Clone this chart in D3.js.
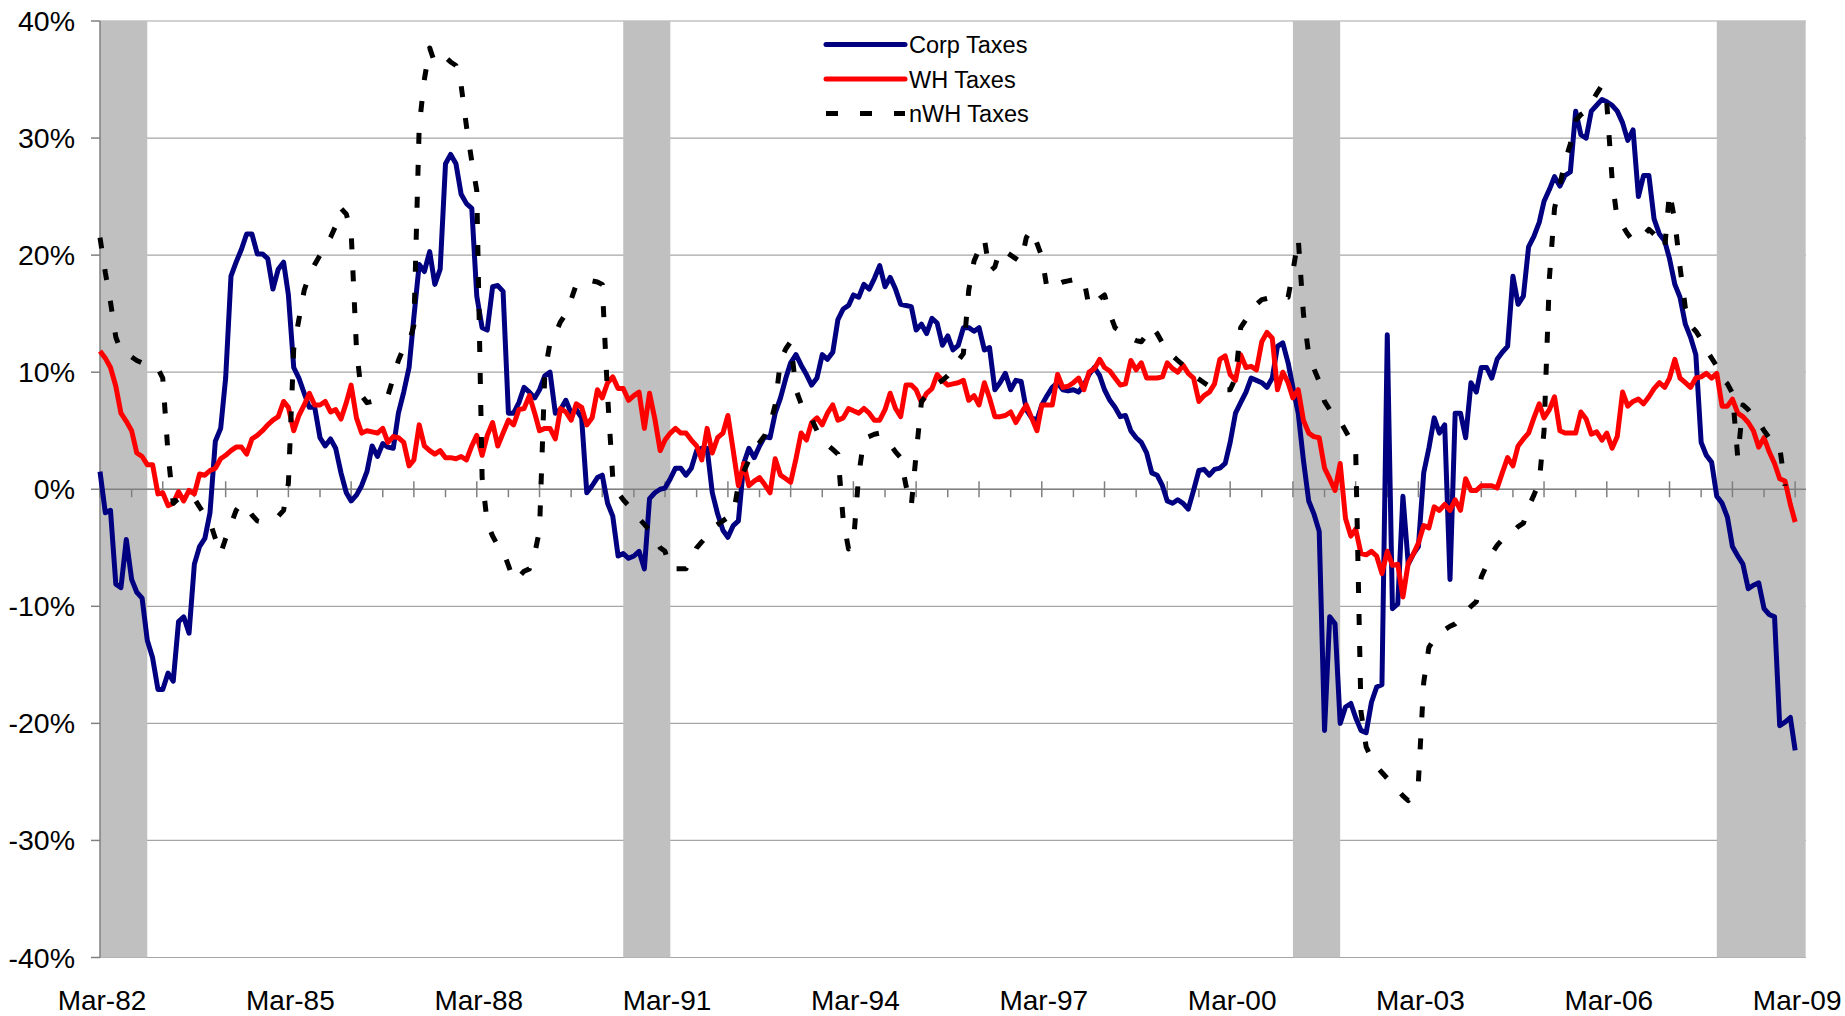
<!DOCTYPE html>
<html>
<head>
<meta charset="UTF-8">
<title>Corp, WH and nWH Taxes</title>
<script src="https://d3js.org/d3.v7.min.js"></script>
<style>
  body { margin: 0; background: #fff; }
  text { font-family: "Liberation Sans", Arial, sans-serif; fill: #000; }
</style>
</head>
<body>
<svg id="chart" width="1845" height="1016"></svg>
<script>
// monthly values (% y/y), first value = Mar-82
var firstYear = 1982, firstMonth = 2;

var corpTaxes = [
  1.5, -2.0, -1.8, -8.1, -8.4, -4.3, -7.7, -8.8, -9.3, -12.9,
  -14.4, -17.1, -17.1, -15.7, -16.4, -11.3, -10.9, -12.3, -6.4, -4.9,
  -4.2, -2.0, 4.1, 5.2, 9.5, 18.2, 19.4, 20.5, 21.8, 21.8,
  20.1, 20.1, 19.7, 17.1, 18.8, 19.4, 16.6, 10.4, 9.5, 8.2,
  7.0, 7.0, 4.4, 3.7, 4.3, 3.5, 1.4, -0.3, -1.0, -0.5,
  0.3, 1.5, 3.7, 2.8, 3.9, 3.6, 3.5, 6.5, 8.3, 10.4,
  14.7, 19.2, 18.6, 20.3, 17.5, 18.8, 27.8, 28.6, 27.8, 25.2,
  24.4, 24.0, 16.5, 13.8, 13.6, 17.3, 17.4, 16.9, 6.5, 6.5,
  7.4, 8.7, 8.3, 7.8, 8.5, 9.7, 10.0, 6.5, 6.8, 7.6,
  6.5, 6.8, 6.1, -0.3, 0.3, 1.0, 1.2, -1.2, -2.3, -5.7,
  -5.5, -5.9, -5.7, -5.3, -6.8, -0.8, -0.3, 0.0, 0.1, 0.9,
  1.8, 1.8, 1.2, 1.8, 3.3, 3.5, 3.5, -0.3, -2.1, -3.5,
  -4.1, -3.1, -2.7, 2.2, 3.5, 2.7, 3.7, 4.5, 4.4, 6.5,
  7.8, 9.5, 10.8, 11.5, 10.6, 9.8, 8.9, 9.5, 11.5, 11.1,
  11.7, 14.5, 15.4, 15.7, 16.6, 16.4, 17.5, 17.1, 18.0, 19.1,
  17.3, 18.1, 17.1, 15.8, 15.7, 15.6, 13.6, 14.1, 13.3, 14.6,
  14.2, 12.3, 13.1, 11.9, 12.3, 13.8, 13.8, 13.5, 13.8, 11.9,
  12.1, 8.5, 9.1, 9.9, 8.5, 9.3, 9.2, 6.8, 6.1, 5.9,
  7.2, 8.0, 8.7, 9.1, 8.5, 8.4, 8.5, 8.3, 8.9, 9.8,
  10.4, 9.7, 8.5, 7.6, 7.0, 6.2, 6.3, 5.0, 4.4, 4.0,
  3.1, 1.4, 1.2, 0.3, -1.0, -1.2, -0.9, -1.2, -1.7, -0.1,
  1.6, 1.7, 1.2, 1.7, 1.8, 2.2, 4.0, 6.5, 7.4, 8.3,
  9.5, 9.3, 9.1, 8.7, 9.5, 12.2, 12.5, 10.8, 8.7, 6.5,
  2.5, -1.0, -2.1, -3.6, -20.6, -10.9, -11.5, -20.0, -18.6, -18.3,
  -19.5, -20.6, -20.8, -18.2, -16.9, -16.7, 13.2, -10.2, -9.8, -0.6,
  -6.4, -5.5, -4.9, 1.4, 3.5, 6.1, 4.8, 5.5, -7.7, 6.5,
  6.5, 4.4, 9.1, 8.3, 10.4, 10.4, 9.5, 11.1, 11.7, 12.2,
  18.2, 15.8, 16.5, 20.7, 21.6, 22.8, 24.6, 25.6, 26.7, 25.9,
  26.8, 27.1, 32.3, 30.3, 30.0, 32.3, 32.8, 33.3, 33.1, 32.8,
  32.3, 31.3, 29.8, 30.7, 25.0, 26.8, 26.8, 23.1, 21.8, 21.2,
  19.7, 17.5, 16.4, 14.1, 13.0, 11.5, 4.0, 2.9, 2.3, -0.6,
  -1.2, -2.4, -4.9, -5.7, -6.4, -8.5, -8.2, -8.0, -10.2, -10.7,
  -10.9, -20.2, -19.9, -19.5, -22.3
];

var whTaxes = [
  11.8, 11.2, 10.4, 8.8, 6.5, 5.8, 5.0, 3.1, 2.8, 2.1,
  2.1, -0.4, -0.3, -1.4, -1.2, -0.2, -1.0, -0.1, -0.4, 1.3,
  1.2, 1.6, 1.8, 2.6, 2.9, 3.3, 3.6, 3.6, 3.0, 4.3,
  4.6, 5.0, 5.5, 5.9, 6.2, 7.5, 7.0, 5.0, 6.3, 7.2,
  8.2, 7.2, 7.2, 7.5, 6.6, 6.8, 6.0, 7.4, 8.9, 6.1,
  4.8, 5.0, 4.9, 4.8, 5.2, 4.0, 4.5, 4.4, 4.0, 2.0,
  2.5, 5.5, 3.7, 3.3, 3.0, 3.3, 2.7, 2.7, 2.6, 2.8,
  2.5, 3.7, 4.6, 2.9, 4.6, 5.7, 3.7, 4.8, 5.9, 5.5,
  6.8, 6.9, 8.0, 6.5, 5.0, 5.2, 5.2, 4.3, 6.9, 6.6,
  5.9, 7.3, 7.0, 5.5, 6.1, 8.5, 7.8, 9.1, 9.6, 8.6,
  8.6, 7.6, 8.0, 8.3, 5.2, 8.2, 6.0, 3.3, 4.2, 4.8,
  5.2, 4.8, 4.8, 4.2, 3.7, 2.5, 5.2, 3.1, 4.4, 4.8,
  6.3, 3.3, 0.3, 2.2, 0.3, 0.7, 1.0, 0.4, -0.3, 2.6,
  1.2, 0.9, 0.6, 2.6, 4.8, 4.2, 5.7, 6.1, 5.5, 6.5,
  7.2, 5.9, 6.1, 6.9, 6.7, 6.5, 6.9, 6.5, 5.9, 5.9,
  6.8, 8.2, 6.9, 6.2, 8.9, 8.9, 8.5, 7.4, 8.2, 8.6,
  9.8, 9.3, 8.9, 9.0, 9.1, 9.3, 7.6, 8.0, 7.2, 9.1,
  7.8, 6.2, 6.2, 6.3, 6.6, 5.7, 6.5, 7.2, 6.1, 5.0,
  7.2, 7.2, 7.2, 9.8, 8.7, 8.8, 9.1, 9.5, 8.5, 10.0,
  10.3, 11.1, 10.4, 10.1, 9.5, 8.9, 9.0, 11.0, 10.2, 10.8,
  9.5, 9.5, 9.5, 9.6, 10.8, 10.3, 10.0, 10.6, 9.9, 9.5,
  7.5, 8.0, 8.3, 9.0, 11.1, 11.4, 9.8, 9.3, 11.5, 10.4,
  10.5, 10.2, 12.6, 13.4, 12.9, 8.5, 10.0, 9.1, 7.8, 8.5,
  5.9, 4.8, 4.5, 4.4, 1.8, 0.9, -0.1, 2.2, -2.5, -4.0,
  -3.4, -5.5, -5.6, -5.3, -5.7, -7.2, -5.3, -6.5, -6.4, -9.2,
  -6.3, -5.5, -4.6, -3.1, -3.3, -1.5, -1.8, -1.3, -1.8, -0.9,
  -1.8, 0.9, -0.1, -0.1, 0.3, 0.3, 0.3, 0.1, 1.4, 2.7,
  2.0, 3.7, 4.3, 4.8, 6.1, 7.3, 6.1, 6.8, 7.9, 5.0,
  4.8, 4.8, 4.8, 6.6, 6.0, 4.7, 4.9, 4.2, 4.8, 3.5,
  4.5, 8.3, 7.1, 7.5, 7.7, 7.3, 7.9, 8.6, 9.1, 8.7,
  9.5, 11.1, 9.5, 9.1, 8.7, 9.5, 9.6, 9.9, 9.5, 9.9,
  7.1, 7.1, 7.7, 6.5, 6.2, 5.7, 5.0, 3.6, 4.4, 3.2,
  2.2, 0.9, 0.7, -1.3, -2.8
];

var nwhTaxes = [
  21.5, 18.5, 16.0, 13.0, 11.8, 11.5, 11.3, 11.0, 10.8, 10.6,
  10.5, 10.3, 9.5, 3.0, -1.2, -0.8, -0.6, -0.6, -0.8, -1.5,
  -2.2, -2.8, -4.2, -5.5, -4.2, -3.0, -1.8, -1.2, -1.5, -2.2,
  -2.7, -2.8, -2.6, -2.5, -2.3, -1.8, 0.5, 12.0, 14.5, 17.0,
  18.3, 19.2, 20.0, 20.8, 21.5, 22.5, 24.0, 23.5, 22.0, 12.0,
  8.0, 7.4, 7.5, 7.6, 7.5, 8.0, 9.5, 11.0, 12.1, 12.5,
  14.0, 31.0, 35.0, 37.7, 36.4, 36.8, 36.9, 36.5, 36.2, 34.5,
  31.0, 28.0, 25.5, 1.0, -2.9, -4.0, -4.8, -5.3, -6.5, -7.8,
  -7.5, -7.0, -6.8, -5.5, -3.5, 10.0, 12.5, 13.3, 14.3, 15.0,
  16.2, 17.5, 17.8, 17.9, 17.8, 17.7, 17.5, 8.0, 1.0, -0.3,
  -0.9, -1.4, -2.0, -2.5, -3.0, -3.5, -4.2, -5.0, -5.3, -6.8,
  -6.8, -6.8, -6.8, -6.0, -5.0, -4.5, -4.0, -3.3, -3.0, -2.7,
  -2.4, -2.2, 0.4, 1.5, 2.5, 3.3, 4.0, 4.6, 5.5, 7.2,
  11.0, 12.0, 12.6, 8.5, 7.3, 6.5, 6.0, 5.0, 4.2, 3.8,
  3.4, 3.0, -2.7, -5.1, -4.6, 1.2, 4.3, 4.5, 4.7, 4.8,
  4.3, 3.8, 3.2, 2.7, 0.3, -1.4, 3.0, 7.5, 8.0, 8.5,
  9.0, 9.3, 9.7, 10.3, 11.0, 11.6, 17.0, 19.5, 20.5, 21.4,
  18.6, 19.0, 20.5, 20.3, 20.0, 19.7, 19.4, 21.5, 22.2, 21.0,
  19.9, 17.1, 17.3, 17.5, 17.7, 17.8, 17.9, 18.0, 17.9, 15.6,
  15.8, 16.3, 16.6, 15.0, 13.8, 13.5, 13.2, 12.9, 12.7, 12.6,
  13.2, 13.9, 13.3, 12.5, 11.7, 11.4, 11.0, 10.6, 10.2, 9.7,
  9.4, 9.1, 8.8, 8.7, 8.6, 8.5, 8.5, 9.5, 13.8, 14.5,
  15.2, 15.8, 16.2, 16.3, 16.4, 16.5, 16.4, 16.4, 18.6, 21.4,
  15.0, 11.5, 10.3, 9.2, 7.5, 6.8, 6.3, 5.8, 5.0, 4.2,
  3.5, -19.0, -22.0, -23.0, -23.7, -24.2, -24.7, -25.2, -25.7, -26.2,
  -26.6, -25.8, -25.0, -16.5, -13.5, -12.8, -12.4, -12.0, -11.7, -11.5,
  -11.0, -10.5, -10.0, -9.6, -7.5, -6.5, -5.5, -4.8, -4.3, -4.0,
  -3.6, -3.2, -2.9, -1.5, -0.5, 0.6, 5.0, 18.0, 24.0, 26.0,
  28.0, 29.5, 31.5, 32.0, 32.3, 33.0, 33.8, 34.5, 33.0, 26.5,
  23.0, 22.5, 21.8, 21.2, 21.3, 21.7, 22.2, 21.8, 21.2, 20.6,
  25.4, 22.9, 19.0, 15.5, 14.0, 13.5, 12.8, 11.9, 11.2, 10.5,
  9.5, 9.0, 8.2, 2.7, 7.2, 6.8, 6.2, 5.7, 5.0, 4.4,
  3.9, 3.6, 0.3
];

// recession shading (first and last month)
var recessionStart = ["1982-03", "1990-07", "2001-03", "2007-12"];
var recessionEnd = ["1982-11", "1991-03", "2001-11", "2009-04"];

var yTicks = [-40, -30, -20, -10, 0, 10, 20, 30, 40];
var seriesNames = ["Corp Taxes", "WH Taxes", "nWH Taxes"];
var seriesColors = ["#000080", "#ff0000", "#000000"];

var svg = d3.select("#chart");
var plotLeft = 100, plotRight = 1806, plotTop = 21, plotBottom = 957.5;
var axisStart = new Date(1982, 2, 1), axisEnd = new Date(2009, 4, 3);

function monthDate(i) { return new Date(firstYear, firstMonth + i, 1); }
var parseMonth = d3.timeParse("%Y-%m");

var x = d3.scaleTime().domain([axisStart, axisEnd]).range([plotLeft, plotRight]);
var y = d3.scaleLinear().domain([-40, 40]).range([plotBottom, plotTop]);

svg.append("rect").attr("width", 1845).attr("height", 1016).attr("fill", "#fff");

// gridlines
svg.append("g").selectAll("line").data(yTicks).enter().append("line")
  .attr("x1", plotLeft).attr("x2", plotRight)
  .attr("y1", function(d) { return y(d); })
  .attr("y2", function(d) { return y(d); })
  .attr("stroke", "#a6a6a6").attr("stroke-width", 1.2);

// recession bands
svg.append("g").selectAll("rect").data(recessionStart).enter().append("rect")
  .attr("x", function(d) { return x(parseMonth(d)); })
  .attr("width", function(d, i) {
    var end = d3.timeMonth.offset(parseMonth(recessionEnd[i]), 1);
    return Math.min(x(end), plotRight) - x(parseMonth(d));
  })
  .attr("y", plotTop).attr("height", plotBottom - plotTop)
  .attr("fill", "#c0c0c0");

// axes
var axisColor = "#808080";
svg.append("line").attr("x1", plotLeft).attr("x2", plotLeft)
  .attr("y1", plotTop).attr("y2", plotBottom)
  .attr("stroke", axisColor).attr("stroke-width", 1.5);
svg.append("g").selectAll("line").data(yTicks).enter().append("line")
  .attr("x1", plotLeft - 9).attr("x2", plotLeft)
  .attr("y1", function(d) { return y(d); })
  .attr("y2", function(d) { return y(d); })
  .attr("stroke", axisColor).attr("stroke-width", 1.5);
svg.append("g").selectAll("text").data(yTicks).enter().append("text")
  .attr("x", 75).attr("y", function(d) { return y(d) + 10; })
  .attr("text-anchor", "end").attr("font-size", 28.5)
  .text(function(d) { return d + "%"; });

svg.append("line").attr("x1", plotLeft).attr("x2", plotRight)
  .attr("y1", y(0)).attr("y2", y(0))
  .attr("stroke", axisColor).attr("stroke-width", 1.5);
// tick every 6 months from Mar-82: March ticks cross the axis, September ticks hang below
var ticks = d3.timeMonth.range(axisStart, axisEnd, 6);
svg.append("g").selectAll("line").data(ticks).enter().append("line")
  .attr("x1", function(d) { return x(d); })
  .attr("x2", function(d) { return x(d); })
  .attr("y1", function(d) { return d.getMonth() == 2 ? y(0) - 8 : y(0); })
  .attr("y2", y(0) + 8)
  .attr("stroke", axisColor).attr("stroke-width", 1.5);

var fmt = d3.timeFormat("%b-%y");
var labelDates = d3.timeMonth.range(axisStart, axisEnd, 36);
svg.append("g").selectAll("text").data(labelDates).enter().append("text")
  .attr("x", function(d) { return x(d) + 2; })
  .attr("y", 1010)
  .attr("text-anchor", "middle").attr("font-size", 28)
  .text(function(d) { return fmt(d); });

// series, drawn in legend order (nWH ends up on top)
var allSeries = [corpTaxes, whTaxes, nwhTaxes];
var line = d3.line()
  .x(function(d, i) { return x(monthDate(i)); })
  .y(function(d) { return y(d); });

[0, 1, 2].forEach(function(k) {
  svg.append("path")
    .attr("d", line(allSeries[k]))
    .attr("fill", "none")
    .attr("stroke", seriesColors[k])
    .attr("stroke-width", 5)
    .attr("stroke-linejoin", "round")
    .attr("stroke-dasharray", k == 2 ? "11,21" : null);
});

// legend
var legend = svg.append("g");
seriesNames.forEach(function(name, i) {
  var ly = 44.5 + i * 34.5;
  legend.append("line")
    .attr("x1", 826).attr("x2", 905).attr("y1", ly).attr("y2", ly)
    .attr("stroke", seriesColors[i])
    .attr("stroke-width", 5)
    .attr("stroke-linecap", i == 2 ? "butt" : "round")
    .attr("stroke-dasharray", i == 2 ? "12,22" : null);
  legend.append("text")
    .attr("x", 909).attr("y", ly + 8.5)
    .attr("font-size", 23.5)
    .text(name);
});
</script>
</body>
</html>
